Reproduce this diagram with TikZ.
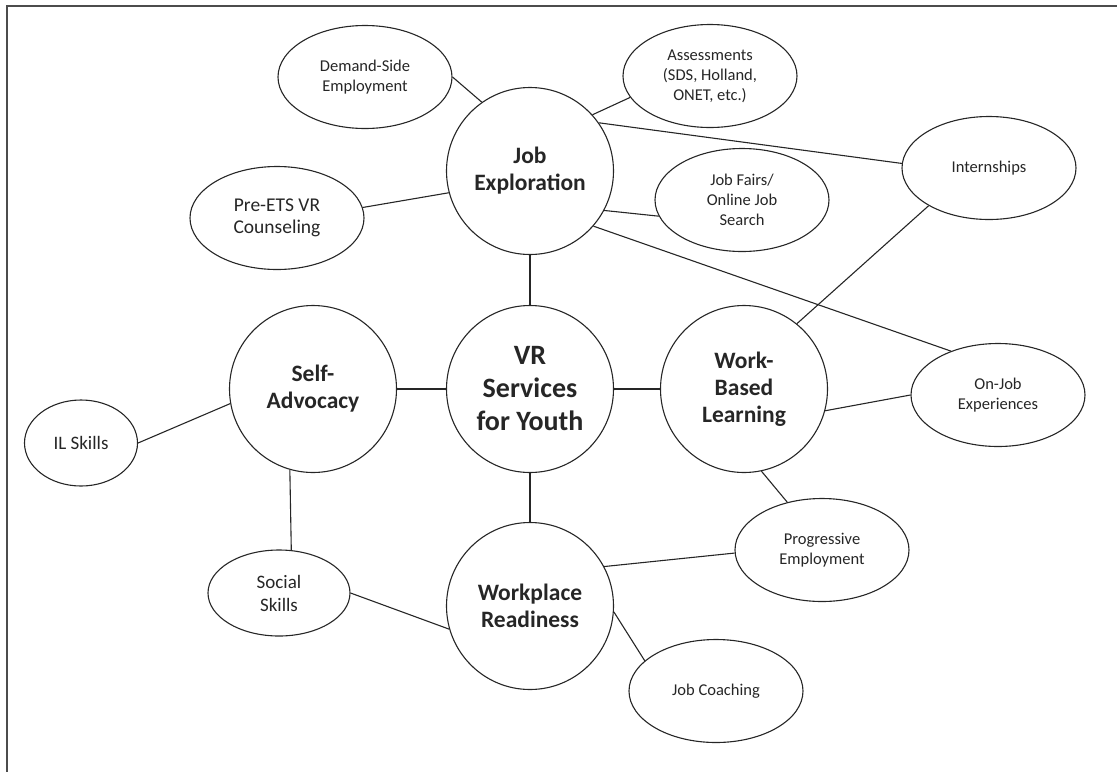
\documentclass[tikz,border=0pt]{standalone}
\usepackage{fontspec}
\setmainfont{Carlito}
\usetikzlibrary{shapes.geometric}
\begin{document}
\begin{tikzpicture}[x=1pt, y=-1pt, line width=1.1pt, color=black!85,
    hub/.style={draw, circle, minimum size=167pt, inner sep=0pt, align=center,
        font=\fontsize{23.5}{27}\selectfont\bfseries},
    leaf/.style={draw, ellipse, minimum width=174pt, minimum height=103pt, inner sep=0pt,
        align=center, font=\fontsize{16.5}{20}\selectfont},
    small leaf/.style={leaf, minimum width=#1, minimum height=86pt,
        font=\fontsize{19}{23}\selectfont}]
    \useasboundingbox (0,0) rectangle (1117,772);
    \draw[line width=1.6pt, black!70] (1117,6) -- (7,6) -- (7,772);

    \node[hub] (je) at (530,171) {Job\\Exploration};
    \node[hub, font=\fontsize{28}{33}\selectfont\bfseries] (vr) at (530,389) {VR\\Services\\for Youth};
    \node[hub] (wr) at (530,606) {Workplace\\Readiness};
    \node[hub] (sa) at (313,389) {Self-\\Advocacy};
    \node[hub] (wbl) at (744,389) {Work-\\Based\\Learning};

    \node[leaf] (dse) at (365,77) {Demand-Side\\Employment};
    \node[leaf] (assess) at (710,76) {Assessments\\(SDS, Holland,\\ONET, etc.)};
    \node[leaf, font=\fontsize{19.5}{22}\selectfont] (pre) at (277,218) {Pre-ETS VR\\Counseling};
    \node[leaf] (fairs) at (742,200) {Job Fairs/\\Online Job\\Search};
    \node[leaf] (intern) at (989,168) {Internships};
    \node[leaf] (onjob) at (998,395) {On-Job\\Experiences};
    \node[leaf] (prog) at (822,550) {Progressive\\Employment};
    \node[leaf] (coach) at (716,691) {Job Coaching};
    \node[small leaf=113pt] (il) at (81,443) {IL Skills};
    \node[small leaf=142pt] (social) at (279,593) {Social\\Skills};

    \draw (dse.0) -- (je.125);
    \draw (je.42) -- (assess.195);
    \draw (je.35) -- (intern.177);
    \draw (je.-28) -- (fairs.191);
    \draw (je.-41) -- (onjob.137);
    \draw (pre.7) -- (je.195);
    \draw (je.south) -- (vr.north);
    \draw (intern.212) -- (wbl.51);
    \draw (vr.east) -- (wbl.west);
    \draw (sa.east) -- (vr.west);
    \draw (vr.south) -- (wr.north);
    \draw (wbl.-15) -- (onjob.180);
    \draw (wbl.-78) -- (prog.126);
    \draw (wr.28) -- (prog.182);
    \draw (wr.-4) -- (coach.157);
    \draw (il.east) -- (sa.190);
    \draw (sa.254) -- (social.74);
    \draw (social.east) -- (wr.196);
\end{tikzpicture}
\end{document}
